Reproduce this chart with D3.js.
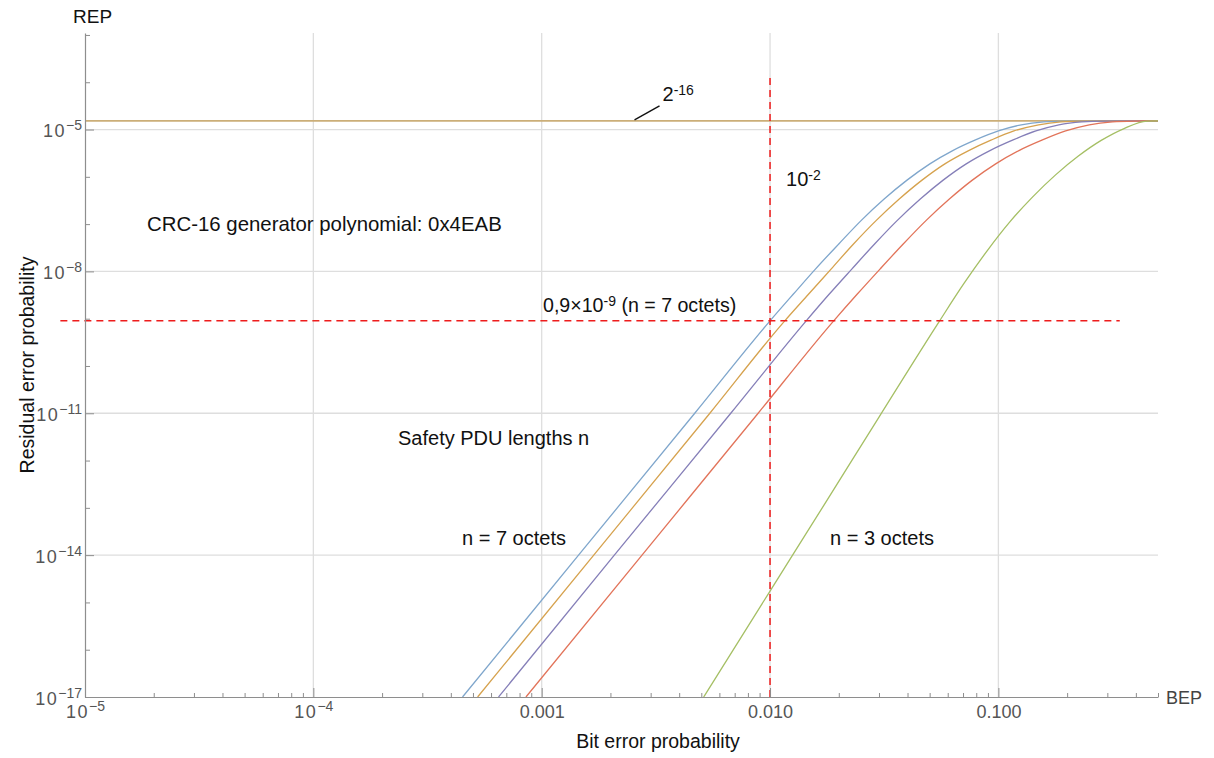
<!DOCTYPE html>
<html>
<head>
<meta charset="utf-8">
<script src="https://cdn.jsdelivr.net/npm/d3@7"></script>
<style>
  body { margin: 0; background: #fff; }
  svg { display: block; font-family: "Liberation Sans", Arial, sans-serif; }
</style>
</head>
<body>
<svg id="chart" width="1214" height="758"></svg>
<script>
// Residual error probability (REP) of CRC-16 0x4EAB versus bit error probability (BEP)
// for safety PDU lengths n = 7 ... 3 octets.

// REP levels at which the n = 7, 6, 5 and 4 octet curves are tabulated
const repLevels = [1e-17, 1e-14, 1e-11, 9.0e-10, 3.24e-9, 1.12e-8, 3.80e-8, 1.20e-7, 3.39e-7, 8.51e-7,
                   1.88e-6, 3.59e-6, 6.03e-6, 9.33e-6, 1.26e-5, 1.45e-5, 1.51e-5, 1.52e-5, 1.526e-5];

const bepN7 = [4.50e-4, 1.45e-3, 4.68e-3, 0.0100, 0.0126, 0.0158, 0.0200, 0.0251, 0.0316, 0.0398,
               0.0501, 0.0631, 0.0794, 0.100, 0.126, 0.158, 0.200, 0.316, 0.500];
const bepN6 = [5.24e-4, 1.69e-3, 5.45e-3, 0.0116, 0.0147, 0.0185, 0.0232, 0.0292, 0.0368, 0.0463,
               0.0583, 0.0741, 0.0933, 0.117, 0.150, 0.188, 0.237, 0.355, 0.500];
const bepN5 = [6.47e-4, 2.08e-3, 6.73e-3, 0.0144, 0.0181, 0.0228, 0.0287, 0.0361, 0.0455, 0.0573,
               0.0723, 0.0918, 0.116, 0.146, 0.184, 0.232, 0.292, 0.398, 0.500];
const bepN4 = [8.53e-4, 2.75e-3, 8.87e-3, 0.0190, 0.0240, 0.0303, 0.0383, 0.0483, 0.0610, 0.0769,
               0.0973, 0.123, 0.156, 0.197, 0.250, 0.316, 0.398, 0.457, 0.500];

// n = 3 octets
const bepN3 = [5.12e-3, 0.0100, 0.0175, 0.0301, 0.0552, 0.0708, 0.0891, 0.112, 0.141, 0.178,
               0.224, 0.282, 0.355, 0.447, 0.500];
const repN3 = [1e-17, 1.74e-15, 1.29e-13, 8.51e-12, 8.9e-10, 5.62e-9, 2.69e-8, 1.10e-7, 3.72e-7, 1.10e-6,
               2.75e-6, 5.89e-6, 1.05e-5, 1.51e-5, 1.526e-5];

const seriesBep = [bepN7, bepN6, bepN5, bepN4, bepN3];
const seriesRep = [repLevels, repLevels, repLevels, repLevels, repN3];
const seriesColors = ["#7fa6cc", "#d6a24e", "#857fb8", "#e2745a", "#a5bf64"];

// CRC-16 limit 2^-16 and the marked operating point
const crcLimit = Math.pow(2, -16);
const markBep = 0.01;
const markRep = 0.9e-9;
const markHSpan = [7.8e-6, 0.34];     // BEP extent of the horizontal marker
const markVSpan = [1e-17, 1.23e-4];   // REP extent of the vertical marker
const limitLeaderBep = 2.55e-3;

// axis ticks
const xMajorTicks = [1e-5, 1e-4, 1e-3, 1e-2, 1e-1];
const xTickLabels = [["10", "−5"], ["10", "−4"], ["0.001"], ["0.010"], ["0.100"]];
const yMajorTicks = [1e-5, 1e-8, 1e-11, 1e-14, 1e-17];
const yTickLabels = [["10", "−5"], ["10", "−8"], ["10", "−11"], ["10", "−14"], ["10", "−17"]];
const yMinorTicks = [1e-3, 1e-4, 1e-6, 1e-7, 1e-9, 1e-10, 1e-12, 1e-13, 1e-15, 1e-16];
const xGridTicks = [1e-4, 1e-3, 1e-2, 1e-1];
const yGridTicks = [1e-5, 1e-8, 1e-11, 1e-14];

const svg = d3.select("#chart");
const x = d3.scaleLog().domain([1e-5, 0.5]).range([85, 1158]);
const y = d3.scaleLog().domain([1e-17, 1.1e-3]).range([697, 33]);

const xMinorTicks = [];
for (let k = -5; k <= -1; k++) {
  for (let m = 2; m <= 9; m++) {
    const v = m * Math.pow(10, k);
    if (v <= 0.5 * (1 + 1e-9)) xMinorTicks.push(v);
  }
}

// grid lines
const grid = svg.append("g");
grid.selectAll("line.gv").data(xGridTicks).join("line")
  .attr("x1", d => x(d)).attr("x2", d => x(d))
  .attr("y1", y.range()[0]).attr("y2", y.range()[1])
  .attr("stroke", "#dedede").attr("stroke-width", 1.3);
grid.selectAll("line.gh").data(yGridTicks).join("line")
  .attr("x1", x.range()[0]).attr("x2", x.range()[1])
  .attr("y1", d => y(d)).attr("y2", d => y(d))
  .attr("stroke", "#dedede").attr("stroke-width", 1.3);

// 2^-16 limit
svg.append("line")
  .attr("x1", x.range()[0]).attr("x2", x.range()[1])
  .attr("y1", y(crcLimit)).attr("y2", y(crcLimit))
  .attr("stroke", "#cbae78").attr("stroke-width", 1.6);

// REP curves
const line = d3.line()
  .x(d => x(d[0]))
  .y(d => y(d[1]))
  .curve(d3.curveMonotoneX);

seriesBep.forEach((bep, i) => {
  const pts = bep.map((b, j) => [b, seriesRep[i][j]]);
  svg.append("path")
    .attr("d", line(pts))
    .attr("fill", "none")
    .attr("stroke", seriesColors[i])
    .attr("stroke-width", 1.3);
});

// operating point markers
svg.append("line")
  .attr("x1", x(markHSpan[0])).attr("x2", x(markHSpan[1]))
  .attr("y1", y(markRep)).attr("y2", y(markRep))
  .attr("stroke", "#ee1c1c").attr("stroke-width", 1.5)
  .attr("stroke-dasharray", "7,5");
svg.append("line")
  .attr("x1", x(markBep)).attr("x2", x(markBep))
  .attr("y1", y(markVSpan[0])).attr("y2", y(markVSpan[1]))
  .attr("stroke", "#ee1c1c").attr("stroke-width", 1.5)
  .attr("stroke-dasharray", "7,5");

// axes
const axisColor = "#8e8e8e";
const tickColor = "#555";

function styleAxis(g) {
  g.selectAll("path.domain").attr("stroke", axisColor).attr("stroke-width", 1.2);
  g.selectAll(".tick line").attr("stroke", axisColor).attr("stroke-width", 1);
}

const gxMinor = svg.append("g").attr("transform", `translate(0,${y.range()[0]})`)
  .call(d3.axisBottom(x).tickValues(xMinorTicks).tickSizeInner(-4).tickSizeOuter(0).tickFormat(""));
gxMinor.select("path.domain").remove();
styleAxis(gxMinor);

const gx = svg.append("g").attr("transform", `translate(0,${y.range()[0]})`)
  .call(d3.axisBottom(x).tickValues(xMajorTicks).tickSizeInner(-9).tickSizeOuter(0).tickFormat(""));
styleAxis(gx);
gx.selectAll(".tick text").remove();
gx.selectAll(".tick").each(function (d, i) {
  const lab = xTickLabels[i];
  const t = d3.select(this).append("text")
    .attr("y", 21).attr("text-anchor", "middle")
    .attr("fill", tickColor).attr("font-size", 18).attr("stroke", "none");
  t.append("tspan").text(lab[0]).attr("letter-spacing", lab.length > 1 ? 1.5 : 0);
  if (lab.length > 1) t.append("tspan").attr("dy", -7).attr("font-size", 14).text(lab[1]);
});

const gyMinor = svg.append("g").attr("transform", `translate(${x.range()[0]},0)`)
  .call(d3.axisLeft(y).tickValues(yMinorTicks).tickSizeInner(-5).tickSizeOuter(0).tickFormat(""));
gyMinor.select("path.domain").remove();
styleAxis(gyMinor);

const gy = svg.append("g").attr("transform", `translate(${x.range()[0]},0)`)
  .call(d3.axisLeft(y).tickValues(yMajorTicks).tickSizeInner(-9).tickSizeOuter(0).tickFormat(""));
styleAxis(gy);
gy.selectAll(".tick text").remove();
gy.selectAll(".tick").each(function (d, i) {
  const lab = yTickLabels[i];
  const t = d3.select(this).append("text")
    .attr("x", -3).attr("y", 7).attr("text-anchor", "end")
    .attr("fill", tickColor).attr("font-size", 18);
  t.append("tspan").text(lab[0]).attr("letter-spacing", 1.5);
  t.append("tspan").attr("dy", -7).attr("font-size", 14).text(lab[1]);
});

// axis names
svg.append("text").attr("x", 73).attr("y", 23)
  .attr("font-size", 19).attr("fill", "#111").text("REP");
svg.append("text").attr("x", x.range()[1] + 8).attr("y", y.range()[0] + 7)
  .attr("font-size", 18).attr("fill", "#444").text("BEP");
svg.append("text").attr("x", 658).attr("y", 748)
  .attr("text-anchor", "middle").attr("font-size", 19.5).attr("fill", "#111")
  .text("Bit error probability");
svg.append("text").attr("transform", "translate(34,365) rotate(-90)")
  .attr("text-anchor", "middle").attr("font-size", 19.5).attr("fill", "#111")
  .text("Residual error probability");

// annotations
function supText(xp, yp, parts, size) {
  const t = svg.append("text").attr("x", xp).attr("y", yp)
    .attr("font-size", size).attr("fill", "#111");
  parts.forEach(p => {
    const s = t.append("tspan").text(p.t);
    if (p.sup) s.attr("dy", -6).attr("font-size", 14);
    if (p.down) s.attr("dy", 6);
  });
  return t;
}

// 2^-16 label with leader
const leadX = x(limitLeaderBep), leadY = y(crcLimit) - 1;
svg.append("line")
  .attr("x1", leadX).attr("y1", leadY)
  .attr("x2", leadX + 25).attr("y2", leadY - 14)
  .attr("stroke", "#111").attr("stroke-width", 1.4);
supText(leadX + 28, 100.5, [{ t: "2" }, { t: "-16", sup: true }], 20);

supText(x(markBep) + 16, 186, [{ t: "10" }, { t: "-2", sup: true }], 20);

svg.append("text").attr("x", 147).attr("y", 231)
  .attr("font-size", 20.4).attr("fill", "#111")
  .text("CRC-16 generator polynomial: 0x4EAB");

supText(543, 311.5, [{ t: "0,9×10" }, { t: "-9", sup: true }, { t: " (n = 7 octets)", down: true }], 19.6);

svg.append("text").attr("x", 398).attr("y", 445)
  .attr("font-size", 20).attr("fill", "#111").text("Safety PDU lengths n");
svg.append("text").attr("x", 462).attr("y", 545)
  .attr("font-size", 20).attr("fill", "#111").text("n = 7 octets");
svg.append("text").attr("x", 830).attr("y", 545)
  .attr("font-size", 20).attr("fill", "#111").text("n = 3 octets");
</script>
</body>
</html>
